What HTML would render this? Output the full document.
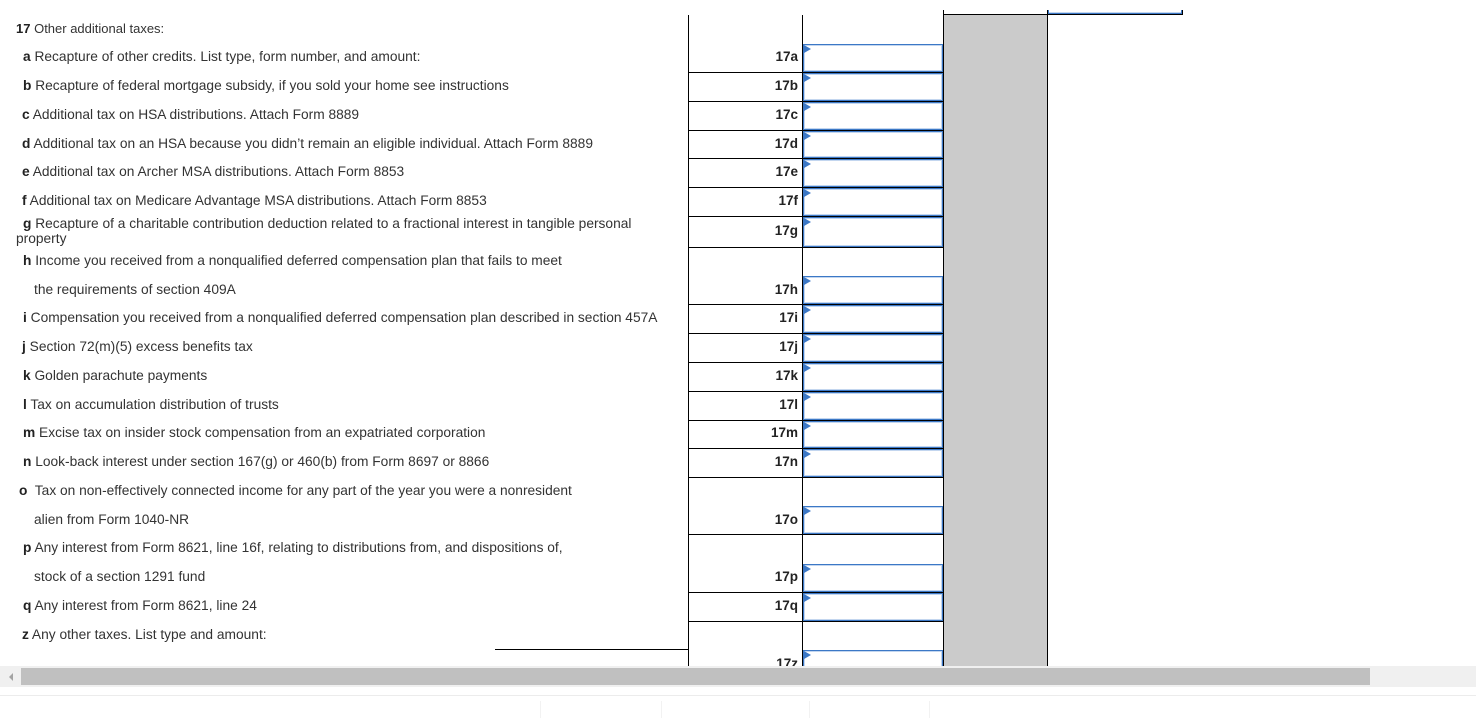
<!DOCTYPE html>
<html><head><meta charset="utf-8">
<style>
html,body{margin:0;padding:0;background:#fff;}
body{width:1476px;height:718px;position:relative;overflow:hidden;font-family:"Liberation Sans",Arial,sans-serif;}
#clip{position:absolute;left:0;top:0;width:1476px;height:666px;overflow:hidden;}
.t{position:absolute;font-size:13.75px;line-height:16px;color:#333;white-space:nowrap;}
.t b{color:#222;}
.lb{position:absolute;left:690px;width:108px;text-align:right;font-size:13.5px;font-weight:bold;line-height:16px;color:#222;}
.hl{position:absolute;left:688px;width:255px;height:1px;background:#000;}
.vl{position:absolute;width:1px;background:#000;}
.in{position:absolute;left:803px;width:140px;box-sizing:border-box;border:1px solid #3c78c6;box-shadow:inset 0 0 0 1px #c3d6ef;background:#fff;}
.in:before{content:"";position:absolute;left:0px;top:0px;width:0;height:0;border-left:7px solid #3c78c6;border-top:4.5px solid transparent;border-bottom:4.5px solid transparent;}
</style></head><body>
<div id="clip">
<!-- gray column -->
<div style="position:absolute;left:943px;top:14px;width:105px;height:660px;background:#cbcbcb;"></div>
<div class="vl" style="left:943px;top:10px;height:660px;"></div>
<div class="vl" style="left:1047px;top:10px;height:660px;"></div>
<div style="position:absolute;left:943px;top:14px;width:240px;height:1px;background:#000;"></div>
<div style="position:absolute;left:1048px;top:10px;width:134px;height:4px;box-sizing:border-box;border:1px solid #3c78c6;border-top:none;box-shadow:inset 0 -1px 0 0 #c3d6ef;background:#fff;"></div>
<div class="vl" style="left:1182px;top:10px;height:5px;"></div>

<!-- column lines -->
<div class="vl" style="left:688px;top:15px;height:660px;"></div>
<div class="vl" style="left:802px;top:15px;height:660px;"></div>

<!-- inputs -->
<div class="in" style="top:44px;height:28px;"></div>
<div class="in" style="top:73px;height:28px;"></div>
<div class="in" style="top:102px;height:28px;"></div>
<div class="in" style="top:131px;height:27px;"></div>
<div class="in" style="top:159px;height:28px;"></div>
<div class="in" style="top:188px;height:28px;"></div>
<div class="in" style="top:217px;height:30px;"></div>
<div class="in" style="top:276px;height:28px;"></div>
<div class="in" style="top:305px;height:28px;"></div>
<div class="in" style="top:334px;height:28px;"></div>
<div class="in" style="top:363px;height:28px;"></div>
<div class="in" style="top:392px;height:28px;"></div>
<div class="in" style="top:421px;height:27px;"></div>
<div class="in" style="top:449px;height:28px;"></div>
<div class="in" style="top:506px;height:28px;"></div>
<div class="in" style="top:564px;height:28px;"></div>
<div class="in" style="top:593px;height:28px;"></div>
<div class="in" style="top:650px;height:28px;"></div>

<!-- row lines -->
<div class="hl" style="top:72px"></div>
<div class="hl" style="top:101px"></div>
<div class="hl" style="top:130px"></div>
<div class="hl" style="top:158px"></div>
<div class="hl" style="top:187px"></div>
<div class="hl" style="top:216px"></div>
<div class="hl" style="top:247px"></div>
<div class="hl" style="top:304px"></div>
<div class="hl" style="top:333px"></div>
<div class="hl" style="top:362px"></div>
<div class="hl" style="top:391px"></div>
<div class="hl" style="top:420px"></div>
<div class="hl" style="top:448px"></div>
<div class="hl" style="top:477px"></div>
<div class="hl" style="top:534px"></div>
<div class="hl" style="top:592px"></div>
<div class="hl" style="top:621px"></div>
<div style="position:absolute;left:495px;top:649px;width:193px;height:1px;background:#000;"></div>

<!-- labels -->
<div class="lb" style="top:49px">17a</div>
<div class="lb" style="top:78px">17b</div>
<div class="lb" style="top:107px">17c</div>
<div class="lb" style="top:136px">17d</div>
<div class="lb" style="top:164px">17e</div>
<div class="lb" style="top:193px">17f</div>
<div class="lb" style="top:223px">17g</div>
<div class="lb" style="top:282px">17h</div>
<div class="lb" style="top:310px">17i</div>
<div class="lb" style="top:339px">17j</div>
<div class="lb" style="top:368px">17k</div>
<div class="lb" style="top:397px">17l</div>
<div class="lb" style="top:425px">17m</div>
<div class="lb" style="top:454px">17n</div>
<div class="lb" style="top:512px">17o</div>
<div class="lb" style="top:569px">17p</div>
<div class="lb" style="top:598px">17q</div>
<div class="lb" style="top:656px">17z</div>

<!-- text -->
<div class="t" style="left:16px;top:21px;font-size:13px;"><b>17</b> Other additional taxes:</div>
<div class="t" style="left:23px;top:49px"><b>a</b> Recapture of other credits. List type, form number, and amount:</div>
<div class="t" style="left:23px;top:78px"><b>b</b> Recapture of federal mortgage subsidy, if you sold your home see instructions</div>
<div class="t" style="left:22px;top:107px"><b>c</b> Additional tax on HSA distributions. Attach Form 8889</div>
<div class="t" style="left:22px;top:136px"><b>d</b> Additional tax on an HSA because you didn’t remain an eligible individual. Attach Form 8889</div>
<div class="t" style="left:22px;top:164px"><b>e</b> Additional tax on Archer MSA distributions. Attach Form 8853</div>
<div class="t" style="left:22px;top:193px"><b>f</b> Additional tax on Medicare Advantage MSA distributions. Attach Form 8853</div>
<div class="t" style="left:23px;top:216px"><b>g</b> Recapture of a charitable contribution deduction related to a fractional interest in tangible personal</div>
<div class="t" style="left:16px;top:231px">property</div>
<div class="t" style="left:23px;top:253px"><b>h</b> Income you received from a nonqualified deferred compensation plan that fails to meet</div>
<div class="t" style="left:34px;top:282px">the requirements of section 409A</div>
<div class="t" style="left:23px;top:310px"><b>i</b> Compensation you received from a nonqualified deferred compensation plan described in section 457A</div>
<div class="t" style="left:22px;top:339px"><b>j</b> Section 72(m)(5) excess benefits tax</div>
<div class="t" style="left:23px;top:368px"><b>k</b> Golden parachute payments</div>
<div class="t" style="left:23px;top:397px"><b>l</b> Tax on accumulation distribution of trusts</div>
<div class="t" style="left:23px;top:425px"><b>m</b> Excise tax on insider stock compensation from an expatriated corporation</div>
<div class="t" style="left:23px;top:454px"><b>n</b> Look-back interest under section 167(g) or 460(b) from Form 8697 or 8866</div>
<div class="t" style="left:19px;top:483px"><b>o</b>&nbsp; Tax on non-effectively connected income for any part of the year you were a nonresident</div>
<div class="t" style="left:34px;top:512px">alien from Form 1040-NR</div>
<div class="t" style="left:23px;top:540px"><b>p</b> Any interest from Form 8621, line 16f, relating to distributions from, and dispositions of,</div>
<div class="t" style="left:34px;top:569px">stock of a section 1291 fund</div>
<div class="t" style="left:23px;top:598px"><b>q</b> Any interest from Form 8621, line 24</div>
<div class="t" style="left:22px;top:627px"><b>z</b> Any other taxes. List type and amount:</div>
</div>

<!-- scrollbar -->
<div style="position:absolute;left:0;top:666px;width:1476px;height:21px;background:#f0f0f0;"></div>
<div style="position:absolute;left:21px;top:668px;width:1349px;height:17px;background:#c0c0c0;"></div>
<div style="position:absolute;left:9px;top:673px;width:0;height:0;border-right:4px solid #a3a3a3;border-top:4px solid transparent;border-bottom:4px solid transparent;"></div>
<div style="position:absolute;left:0;top:695px;width:1476px;height:1px;background:#ececec;"></div>
<div style="position:absolute;left:540px;top:701px;width:1px;height:17px;background:#f2f2f2;"></div>
<div style="position:absolute;left:661px;top:701px;width:1px;height:17px;background:#f2f2f2;"></div>
<div style="position:absolute;left:809px;top:701px;width:1px;height:17px;background:#f2f2f2;"></div>
<div style="position:absolute;left:929px;top:701px;width:1px;height:17px;background:#f2f2f2;"></div>
</body></html>
